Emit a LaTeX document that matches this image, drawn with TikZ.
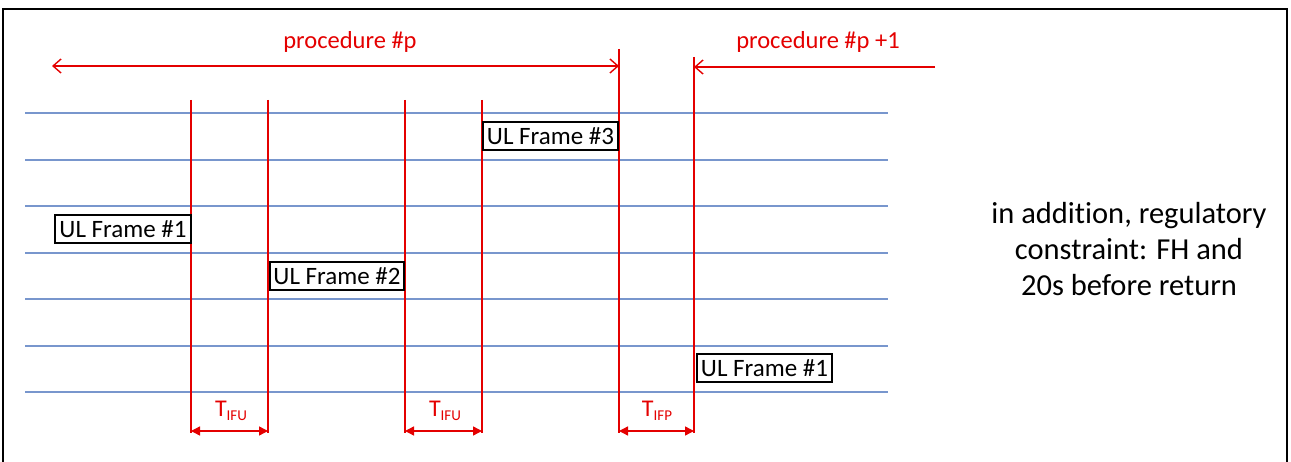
\documentclass[tikz,border=0pt]{standalone}
\usepackage{fontspec}
\setmainfont{Carlito}[Ligatures={NoCommon}]
\usetikzlibrary{arrows.meta}
\definecolor{myred}{RGB}{228,0,0}
\definecolor{myblue}{RGB}{120,150,205}
\begin{document}
\begin{tikzpicture}[x=1pt,y=-1pt,
  redline/.style={draw=myred,line width=1.4pt},
  blueline/.style={draw=myblue,line width=1.4pt},
  framebox/.style={draw=black,line width=1.3pt,fill=white,inner sep=0pt,minimum height=28pt,font=\fontsize{25}{28}\selectfont,text=black},
  redlabel/.style={text=myred,font=\fontsize{24.5}{28}\selectfont},
  tlabel/.style={text=myred,font=\fontsize{24}{26}\selectfont},
  openarrow/.style={redline,-{Straight Barb[length=8pt,width=14pt,line width=1.4pt]}},
  dimarrow/.style={redline,{Triangle[length=9pt,width=9pt]}-{Triangle[length=9pt,width=9pt]}}]
\useasboundingbox (0,0) rectangle (1291,462);
% outer frame
\draw[line width=1.5pt] (3,480) -- (3,9) -- (1287,9) -- (1287,480);
% blue horizontal lines
\foreach \y in {113,160,206,253,299,346,392}
  \draw[blueline] (25,\y) -- (888,\y);
% red vertical lines
\coordinate (a1) at (191,100); \coordinate (a2) at (191,433);
\coordinate (b1) at (268,100); \coordinate (b2) at (268,433);
\coordinate (c1) at (405,100); \coordinate (c2) at (405,433);
\coordinate (d1) at (482,100); \coordinate (d2) at (482,433);
\coordinate (e1) at (619,49);  \coordinate (e2) at (619,433);
\coordinate (f1) at (694,57);  \coordinate (f2) at (694,433);
\foreach \n in {a,b,c,d,e,f}
  \draw[redline] (\n1) -- (\n2);
% frame boxes
\node[framebox,minimum width=136pt] (ul1) at (123,229) {UL Frame \#1};
\node[framebox,minimum width=134pt] (ul2) at (337,276) {UL Frame \#2};
\node[framebox,minimum width=135pt] (ul3) at (550.5,136) {UL Frame \#3};
\node[framebox,minimum width=135pt] (ul4) at (764.5,368) {UL Frame \#1};
% procedure arrows
\coordinate (pL) at (52,66); \coordinate (pR) at (619,66);
\draw[openarrow,{Straight Barb[length=8pt,width=14pt,line width=1.4pt]}-{Straight Barb[length=8pt,width=14pt,line width=1.4pt]}] (pL) -- (pR);
\node[redlabel] (proc) at (350,42) {procedure \#p};
\coordinate (qR) at (935,67); \coordinate (qL) at (694,67);
\draw[openarrow] (qR) -- (qL);
\node[redlabel] (proc1) at (818,42) {procedure \#p +1};
% dimension arrows
\coordinate (t1a) at (191,431); \coordinate (t1b) at (268,431);
\coordinate (t2a) at (405,431); \coordinate (t2b) at (482,431);
\coordinate (t3a) at (619,431); \coordinate (t3b) at (694,431);
\draw[dimarrow] (t1a) -- (t1b);
\draw[dimarrow] (t2a) -- (t2b);
\draw[dimarrow] (t3a) -- (t3b);
\node[tlabel] (T1) at (231,411) {T\raisebox{-4pt}{\fontsize{15}{15}\selectfont IFU}};
\node[tlabel] (T2) at (445,411) {T\raisebox{-4pt}{\fontsize{15}{15}\selectfont IFU}};
\node[tlabel] (T3) at (657,411) {T\raisebox{-4pt}{\fontsize{15}{15}\selectfont IFP}};
% right note
\node[align=center,font=\fontsize{30.5}{36}\selectfont] (note) at (1129,249)
  {in addition, regulatory\\constraint: FH and\\20s before return};
\end{tikzpicture}
\end{document}
